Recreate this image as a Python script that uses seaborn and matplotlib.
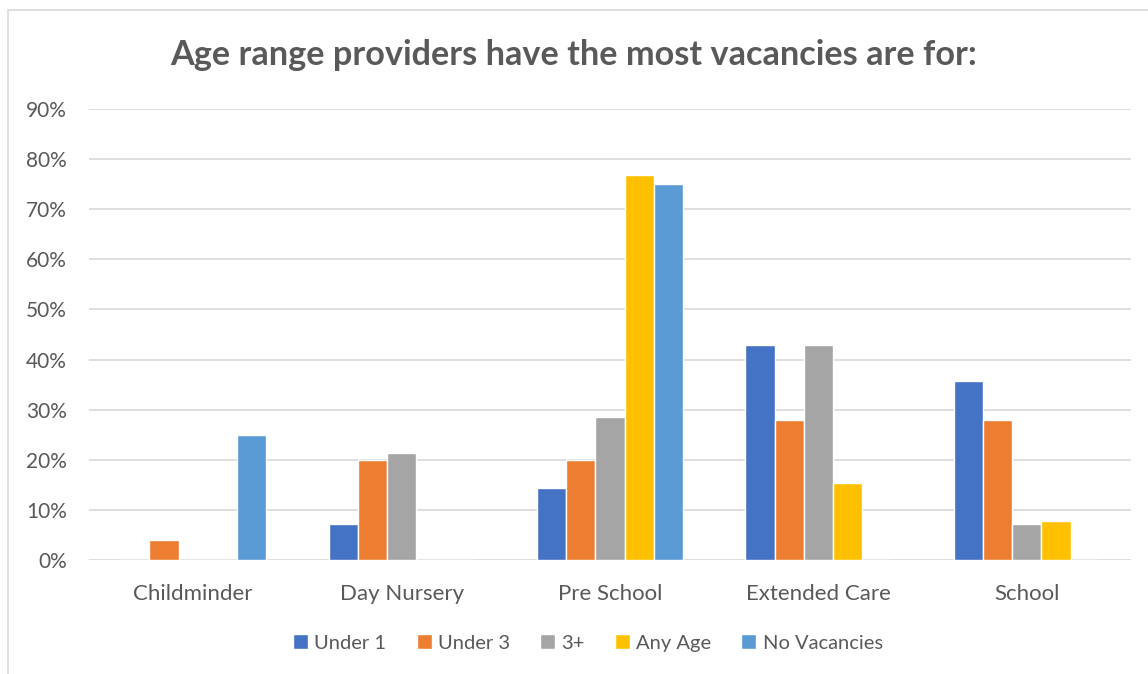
import pandas as pd
import matplotlib.pyplot as plt
import seaborn as sns
from matplotlib.ticker import PercentFormatter
from matplotlib.patches import Rectangle

# 数据
categories = ['Childminder', 'Day Nursery', 'Pre School', 'Extended Care', 'School']
series_names = ['Under 1', 'Under 3', '3+', 'Any Age', 'No Vacancies']
under_1 = [0.0, 0.071, 0.143, 0.429, 0.357]
under_3 = [0.04, 0.20, 0.20, 0.28, 0.28]
three_plus = [0.0, 0.214, 0.286, 0.429, 0.071]
any_age = [0.0, 0.0, 0.769, 0.154, 0.077]
no_vacancies = [0.25, 0.0, 0.75, 0.0, 0.0]
colors = ['#4472C4', '#ED7D31', '#A5A5A5', '#FFC000', '#5B9BD5']

rows = []
for name, vals in zip(series_names, [under_1, under_3, three_plus, any_age, no_vacancies]):
    for cat, v in zip(categories, vals):
        rows.append({'category': cat, 'series': name, 'value': v})
df = pd.DataFrame(rows)

sns.set_theme(style='white')
plt.rcParams['font.family'] = ['Lato', 'DejaVu Sans']
text_color = '#595959'

fig = plt.figure(figsize=(11.48, 6.74), dpi=100)
ax = fig.add_axes([89 / 1148, 1 - 560 / 674, (1131 - 89) / 1148, (560 - 109) / 674])

sns.barplot(data=df, x='category', y='value', hue='series', order=categories,
            hue_order=series_names, palette=colors, width=0.7, errorbar=None,
            saturation=1, ax=ax)

ax.set_ylim(0, 0.9)
ax.set_yticks([i / 10 for i in range(10)])
ax.yaxis.set_major_formatter(PercentFormatter(1.0, decimals=0))
ax.grid(axis='y', color='#D9D9D9', linewidth=1.2)
ax.set_axisbelow(True)
for s in ax.spines.values():
    s.set_visible(False)
ax.set_xlabel('')
ax.set_ylabel('')
ax.tick_params(axis='both', length=0, labelcolor=text_color)
ax.tick_params(axis='y', labelsize=15, pad=16)
ax.tick_params(axis='x', labelsize=16, pad=17)

fig.text(0.5, 1 - 55 / 674, 'Age range providers have the most vacancies are for:',
         ha='center', va='center', fontsize=24.7, fontweight='bold', color=text_color)

handles, labels = ax.get_legend_handles_labels()
ax.legend(handles, labels, loc='center', bbox_to_anchor=(0.5 - 22 / 1042, -(643 - 560) / 451),
          ncol=5, frameon=False, fontsize=14.5, labelcolor=text_color,
          handlelength=0.75, handleheight=0.75, handletextpad=0.3, columnspacing=1.5)

# 图表外框
fig.add_artist(Rectangle((8 / 1148, -0.1), 1.2, 1 - 10 / 674 + 0.1, transform=fig.transFigure,
                         fill=False, edgecolor='#D9D9D9', linewidth=1.2))

fig.savefig('out.png', dpi=100)
